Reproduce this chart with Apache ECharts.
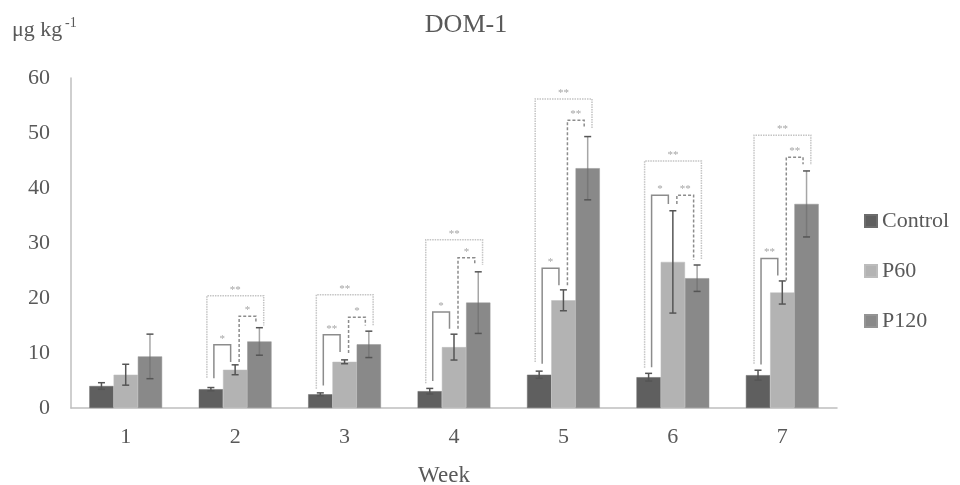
<!DOCTYPE html>
<html><head><meta charset="utf-8">
<script src="https://cdn.jsdelivr.net/npm/echarts@6/dist/echarts.min.js"></script>
<style>html,body{margin:0;padding:0;background:#fff}#c{width:960px;height:485px}</style>
</head><body><div id="c"></div>
<script>
// ---- data ----
const weeks = ['1', '2', '3', '4', '5', '6', '7'];
const seriesNames = ['Control', 'P60', 'P120'];
const controlVals = [4.0, 3.42, 2.5, 3.06, 6.05, 5.6, 5.97];
const controlErr  = [0.6, 0.3, 0.25, 0.5, 0.65, 0.7, 0.9];
const p60Vals     = [6.05, 6.95, 8.4, 11.07, 19.58, 26.56, 21.0];
const p60Err      = [1.9, 0.9, 0.35, 2.35, 1.9, 9.3, 2.1];
const p120Vals    = [9.38, 12.1, 11.57, 19.16, 43.6, 23.6, 37.1];
const p120Err     = [4.05, 2.5, 2.4, 5.6, 5.75, 2.4, 6.0];
const yTicks = [0, 10, 20, 30, 40, 50, 60];
// significance brackets: [week index, left leg bottom, top, right leg bottom, label]
const sigCtrlP60 = [[1, 5.4, 11.5, 8.35, '*'], [2, 4.1, 13.3, 10.2, '**'], [3, 4.9, 17.45, 14.4, '*'],
                    [4, 8.05, 25.4, 22.3, '*'], [5, 7.4, 38.7, 37.1, '*'], [6, 7.9, 27.2, 24.1, '**']];
const sigP60P120 = [[1, 8.35, 16.7, 15.6, '*'], [2, 10.0, 16.5, 15.0, '*'], [3, 14.4, 27.3, 26.0, '*'],
                    [4, 22.3, 52.3, 51.1, '**'], [5, 37.1, 38.7, 26.9, '**'], [6, 23.2, 45.6, 44.3, '**']];
const sigCtrlP120 = [[1, 5.5, 20.4, 15.0, '**'], [2, 3.5, 20.6, 15.0, '**'], [3, 4.5, 30.6, 26.0, '**'],
                     [4, 8.35, 56.2, 50.8, '**'], [5, 7.3, 44.9, 26.9, '**'], [6, 8.05, 49.6, 44.2, '**']];

// ---- style ----
const FONT = "'Liberation Serif', 'Times New Roman', serif";
const TXT = '#595959';
const colors = ['#5f5f5f', '#b3b3b3', '#898989'];
const CAT_GAP = 0.335;

function barCenter(api, cat, k) {
  const c = api.coord([cat, 0])[0];
  const w = api.size([1, 0])[0];
  const bw = w * (1 - CAT_GAP) / 3;
  return c + (k - 1) * bw;
}

function errorSeries(vals, errs, k, stroke, opacity) {
  return {
    type: 'custom', z: 5, silent: true,
    data: vals.map((v, i) => [i, v - errs[i], v + errs[i]]),
    encode: { x: 0, y: [1, 2] },
    renderItem: function (params, api) {
      const cat = api.value(0);
      const x = barCenter(api, cat, k);
      const lo = api.coord([cat, api.value(1)])[1];
      const hi = api.coord([cat, api.value(2)])[1];
      const hw = 3.5;
      const st = { stroke: stroke, lineWidth: 1.5, opacity: opacity };
      return { type: 'group', children: [
        { type: 'line', shape: { x1: x, y1: lo, x2: x, y2: hi }, style: st },
        { type: 'line', shape: { x1: x - hw, y1: hi, x2: x + hw, y2: hi }, style: { stroke: '#555', lineWidth: 1.5 } },
        { type: 'line', shape: { x1: x - hw, y1: lo, x2: x + hw, y2: lo }, style: { stroke: '#555', lineWidth: 1.5 } }
      ] };
    }
  };
}

function bracketSeries(data, kFrom, kTo, dx1, dx2, stroke, dash) {
  return {
    type: 'custom', z: 6, silent: true,
    data: data.map(d => [d[0], d[1], d[2], d[3]]),
    encode: { x: 0, y: [1, 2, 3] },
    renderItem: function (params, api) {
      const d = data[params.dataIndex];
      const cat = api.value(0);
      const x1 = barCenter(api, cat, kFrom) + dx1;
      const x2 = barCenter(api, cat, kTo) + dx2;
      const yL = api.coord([cat, api.value(1)])[1];
      const yT = api.coord([cat, api.value(2)])[1];
      const yR = api.coord([cat, api.value(3)])[1];
      return { type: 'group', children: [
        { type: 'polyline', shape: { points: [[x1, yL], [x1, yT], [x2, yT], [x2, yR]] },
          style: { stroke: stroke, lineWidth: 1.5, lineDash: dash, fill: null } },
        { type: 'text', style: { text: d[4], x: (x1 + x2) / 2, y: yT - 6, align: 'center', verticalAlign: 'middle',
          fill: '#a6a6a6', fontSize: 11, fontFamily: FONT } }
      ] };
    }
  };
}

const chart = echarts.init(document.getElementById('c'), null, { renderer: 'canvas' });
chart.setOption({
  animation: false,
  backgroundColor: '#fff',
  title: {
    text: 'DOM-1', left: 466, top: 12, textAlign: 'center', padding: 0,
    textStyle: { fontFamily: FONT, fontSize: 26, fontWeight: 'normal', color: TXT }
  },
  graphic: [
    { type: 'text', left: 12, top: 19, style: { text: 'μg kg', fontFamily: FONT, fontSize: 22, fill: TXT } },
    { type: 'text', left: 65, top: 16, style: { text: '-1', fontFamily: FONT, fontSize: 14, fill: TXT } }
  ],
  legend: {
    data: seriesNames, orient: 'vertical', left: 864, top: 210, padding: 0,
    itemWidth: 12, itemHeight: 12, itemGap: 28, icon: 'rect',
    textStyle: { fontFamily: FONT, fontSize: 22, color: TXT, lineHeight: 22 }
  },
  grid: { left: 71, right: 123, top: 78, bottom: 77, outerBoundsMode: 'none', containLabel: false },
  xAxis: {
    type: 'category', data: weeks,
    name: 'Week', nameLocation: 'middle', nameGap: 56,
    nameTextStyle: { fontFamily: FONT, fontSize: 23, color: TXT, padding: [0, 20, 0, 0] },
    axisLine: { lineStyle: { color: '#bfbfbf', width: 1.5 } },
    axisTick: { show: false },
    axisLabel: { fontFamily: FONT, fontSize: 22, color: TXT, margin: 18 }
  },
  yAxis: {
    type: 'value', min: yTicks[0], max: yTicks[yTicks.length - 1], interval: 10,
    axisLine: { show: true, lineStyle: { color: '#bfbfbf', width: 1.5 } },
    axisTick: { show: false },
    splitLine: { show: false },
    axisLabel: { fontFamily: FONT, fontSize: 22, color: TXT, margin: 21 }
  },
  series: [
    { name: 'Control', type: 'bar', data: controlVals, barGap: '0%', barCategoryGap: (CAT_GAP * 100) + '%',
      itemStyle: { color: colors[0], borderColor: '#6c6c6c', borderWidth: 0.5 } },
    { name: 'P60', type: 'bar', data: p60Vals,
      itemStyle: { color: colors[1], borderColor: '#bcbcbc', borderWidth: 0.5 } },
    { name: 'P120', type: 'bar', data: p120Vals,
      itemStyle: { color: colors[2], borderColor: '#949494', borderWidth: 0.5 } },
    errorSeries(controlVals, controlErr, 0, '#555', 1),
    errorSeries(p60Vals, p60Err, 1, '#555', 1),
    errorSeries(p120Vals, p120Err, 2, '#6a6a6a', 0.6),
    bracketSeries(sigCtrlP60, 0, 1, 3, -4.5, '#8c8c8c', null),
    bracketSeries(sigP60P120, 1, 2, 4, -3.5, '#8c8c8c', [3, 2]),
    bracketSeries(sigCtrlP120, 0, 2, -4, 4.3, '#c4c4c4', [1.5, 1])
  ]
});
</script>
</body></html>
